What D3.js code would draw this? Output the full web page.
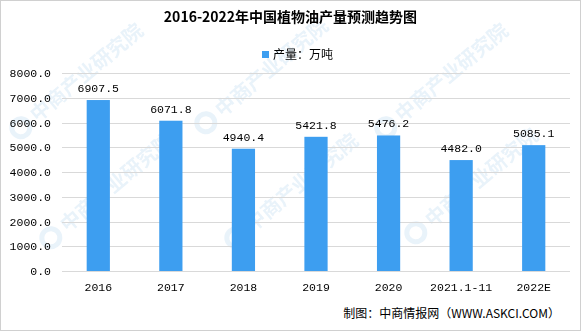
<!DOCTYPE html>
<html>
<head>
<meta charset="utf-8">
<script src="https://cdn.jsdelivr.net/npm/d3@7"></script>
<style>
  body { margin: 0; background: #fff; }
  svg { display: block; }
</style>
</head>
<body>
<div id="chart"></div>
<script>
const years = ["2016", "2017", "2018", "2019", "2020", "2021.1-11", "2022E"];
const output = [6907.5, 6071.8, 4940.4, 5421.8, 5476.2, 4482.0, 5085.1];
const yTicks = [0, 1000, 2000, 3000, 4000, 5000, 6000, 7000, 8000];

const width = 581, height = 331;
const margin = {top: 73, right: 11, bottom: 60, left: 62};
const barColor = "#3d9ef0";
const numFont = "'Liberation Mono', 'DejaVu Sans Mono', monospace";
const cjkFont = "'Noto Sans CJK SC', sans-serif";

const svg = d3.select("#chart").append("svg")
    .attr("width", width)
    .attr("height", height);

svg.append("rect")
    .attr("x", 0.5).attr("y", 0.5)
    .attr("width", width - 1).attr("height", height - 1)
    .attr("fill", "#fff")
    .attr("stroke", "#d0d0d0");

// watermark, kept inside the frame
const marks = [[30, 120], [215, 115], [395, 120], [60, 230], [245, 230], [425, 225]];
const wm = svg.append("g").attr("opacity", 0.13);
marks.forEach(function(p) {
  const g = wm.append("g").attr("transform", "translate(" + p[0] + "," + p[1] + ") rotate(-40)");
  g.append("circle").attr("cx", -12).attr("cy", 0).attr("r", 9)
      .attr("fill", "none").attr("stroke", "#5aa0d8").attr("stroke-width", 5);
  g.append("text").attr("x", 4).attr("y", 7)
      .style("font-family", cjkFont).style("font-size", "20px").style("font-weight", "bold")
      .attr("fill", "#5aa0d8")
      .text("中商产业研究院");
});

const x = d3.scaleBand()
    .domain(years)
    .range([margin.left, width - margin.right])
    .paddingInner(0.68)
    .paddingOuter(0.34);

const y = d3.scaleLinear()
    .domain([0, 8000])
    .range([height - margin.bottom, margin.top]);

// gridlines
svg.append("g")
  .selectAll("line")
  .data(yTicks)
  .enter().append("line")
    .attr("x1", margin.left)
    .attr("x2", width - margin.right)
    .attr("y1", function(d) { return Math.round(y(d)) + 0.5; })
    .attr("y2", function(d) { return Math.round(y(d)) + 0.5; })
    .attr("stroke", "#d9d9d9");

// y axis
const yAxis = svg.append("g")
    .attr("transform", "translate(" + (margin.left - 8) + ",0)")
    .call(d3.axisLeft(y).tickValues(yTicks).tickSize(0).tickFormat(d3.format(".1f")));
yAxis.select(".domain").remove();
yAxis.selectAll("text")
    .style("font-family", numFont)
    .style("font-size", "11.5px")
    .attr("fill", "#000");

// x axis
const xAxis = svg.append("g")
    .attr("transform", "translate(0," + (height - margin.bottom) + ")")
    .call(d3.axisBottom(x).tickSize(0).tickPadding(12));
xAxis.select(".domain").remove();
xAxis.selectAll("text")
    .style("font-family", numFont)
    .style("font-size", "11.5px")
    .attr("fill", "#000");

// bars
svg.append("g")
  .selectAll("rect")
  .data(output)
  .enter().append("rect")
    .attr("x", function(d, i) { return x(years[i]); })
    .attr("y", function(d) { return y(d); })
    .attr("width", x.bandwidth())
    .attr("height", function(d) { return y(0) - y(d); })
    .attr("fill", barColor);

// value labels
svg.append("g")
  .selectAll("text")
  .data(output)
  .enter().append("text")
    .attr("x", function(d, i) { return x(years[i]) + x.bandwidth() / 2; })
    .attr("y", function(d) { return y(d) - 8; })
    .attr("text-anchor", "middle")
    .style("font-family", numFont)
    .style("font-size", "11.5px")
    .attr("fill", "#000")
    .text(function(d) { return d3.format(".1f")(d); });

// title
svg.append("text")
    .attr("x", width / 2)
    .attr("y", 22)
    .attr("text-anchor", "middle")
    .style("font-family", cjkFont)
    .style("font-size", "14px")
    .style("font-weight", "bold")
    .attr("fill", "#000")
    .text("2016-2022年中国植物油产量预测趋势图");

// legend
const legend = svg.append("g").attr("transform", "translate(262,51)");
legend.append("rect").attr("width", 7).attr("height", 7).attr("fill", barColor);
legend.append("text")
    .attr("x", 11).attr("y", 7.5)
    .style("font-family", cjkFont)
    .style("font-size", "12px")
    .attr("fill", "#000")
    .text("产量：万吨");

// source
svg.append("text")
    .attr("x", 560)
    .attr("y", 318)
    .attr("text-anchor", "end")
    .style("font-family", cjkFont)
    .style("font-size", "12px")
    .attr("fill", "#000")
    .text("制图：中商情报网（WWW.ASKCI.COM）");
</script>
</body>
</html>
